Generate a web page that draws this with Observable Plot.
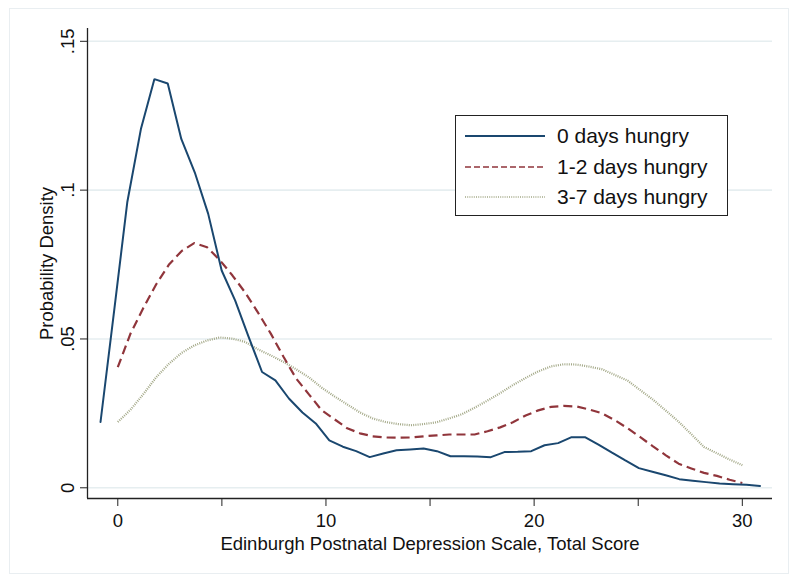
<!DOCTYPE html>
<html>
<head>
<meta charset="utf-8">
<script src="https://cdn.jsdelivr.net/npm/d3@7"></script>
<script src="https://cdn.jsdelivr.net/npm/@observablehq/plot@0.6"></script>
<style>
  html, body { margin: 0; padding: 0; background: #fff; }
  #wrap { position: relative; width: 800px; height: 585px; font-family: "Liberation Sans", Arial, Helvetica, sans-serif; }
  #border { position: absolute; left: 9px; top: 8px; width: 780px; height: 566px; border: 1.5px solid #e9eef1; box-sizing: border-box; }
  #chart { position: absolute; left: 0; top: 0; }
  #legend { position: absolute; left: 455px; top: 115px; width: 273px; height: 101px; border: 1.5px solid #222; background: #fff; box-sizing: border-box; }
  .row { position: absolute; left: 0; height: 30px; display: flex; align-items: center; }
  .row svg { margin-left: 9px; }
  .row span { margin-left: 12px; font-size: 21px; color: #111; white-space: nowrap; }
</style>
</head>
<body>
<div id="wrap">
  <div id="border"></div>
  <div id="chart"></div>
  <div id="legend"></div>
</div>
<script>
// Series names
const seriesNames = ["0 days hungry", "1-2 days hungry", "3-7 days hungry"];
const seriesColors = ["#1a476f", "#90353b", "#a3a887"];

// Evaluation grid for "0 days hungry"
const xBlue = [-0.83, -0.18, 0.46, 1.11, 1.76, 2.40, 3.05, 3.70, 4.34, 4.99,
  5.64, 6.28, 6.93, 7.57, 8.22, 8.87, 9.51, 10.16, 10.81, 11.45,
  12.10, 12.75, 13.39, 14.04, 14.69, 15.33, 15.98, 16.63, 17.27, 17.92,
  18.57, 19.21, 19.86, 20.50, 21.15, 21.80, 22.44, 23.09, 23.74, 24.38,
  25.03, 25.68, 26.32, 26.97, 27.62, 28.26, 28.91, 29.56, 30.20, 30.85];
const yBlue = [0.0221, 0.0592, 0.0961, 0.1205, 0.1373, 0.1358, 0.1172, 0.1059, 0.0921, 0.0730,
  0.0629, 0.0508, 0.0389, 0.0361, 0.0300, 0.0253, 0.0216, 0.0159, 0.0138, 0.0123,
  0.0103, 0.0115, 0.0126, 0.0129, 0.0132, 0.0123, 0.0106, 0.0106, 0.0105, 0.0103,
  0.0120, 0.0121, 0.0123, 0.0143, 0.0150, 0.0170, 0.0170, 0.0145, 0.0118, 0.0092,
  0.0066, 0.0054, 0.0042, 0.0029, 0.0024, 0.0019, 0.0014, 0.0012, 0.0010, 0.0006];

// Evaluation grid for "1-2 days hungry" and "3-7 days hungry"
const xOther = [0.00, 0.61, 1.22, 1.84, 2.45, 3.06, 3.67, 4.29, 4.90, 5.51,
  6.12, 6.73, 7.35, 7.96, 8.57, 9.18, 9.80, 10.41, 11.02, 11.63,
  12.24, 12.86, 13.47, 14.08, 14.69, 15.31, 15.92, 16.53, 17.14, 17.76,
  18.37, 18.98, 19.59, 20.20, 20.82, 21.43, 22.04, 22.65, 23.27, 23.88,
  24.49, 25.10, 25.71, 26.33, 26.94, 27.55, 28.16, 28.78, 29.39, 30.00];
const yRed = [0.0405, 0.0518, 0.0603, 0.0683, 0.0749, 0.0795, 0.0822, 0.0808, 0.0765, 0.0713,
  0.0656, 0.0589, 0.0518, 0.0440, 0.0367, 0.0314, 0.0260, 0.0230, 0.0200, 0.0183,
  0.0173, 0.0169, 0.0168, 0.0169, 0.0173, 0.0176, 0.0179, 0.0179, 0.0179, 0.0190,
  0.0203, 0.0220, 0.0243, 0.0260, 0.0272, 0.0275, 0.0273, 0.0263, 0.0250, 0.0227,
  0.0200, 0.0170, 0.0139, 0.0109, 0.0081, 0.0065, 0.0050, 0.0040, 0.0027, 0.0016];
const yGreen = [0.0221, 0.0262, 0.0314, 0.0371, 0.0416, 0.0453, 0.0478, 0.0495, 0.0505, 0.0501,
  0.0490, 0.0465, 0.0445, 0.0423, 0.0398, 0.0371, 0.0336, 0.0307, 0.0280, 0.0253,
  0.0233, 0.0221, 0.0214, 0.0210, 0.0214, 0.0220, 0.0233, 0.0247, 0.0269, 0.0293,
  0.0318, 0.0345, 0.0369, 0.0391, 0.0408, 0.0415, 0.0414, 0.0407, 0.0398, 0.0379,
  0.0360, 0.0328, 0.0296, 0.0259, 0.0222, 0.0180, 0.0137, 0.0116, 0.0095, 0.0076];

// Ticks and labels
const xTicks = [0, 5, 10, 15, 20, 25, 30];
const xTickLabels = ["0", "", "10", "", "20", "", "30"];
const yTicks = [0, 0.05, 0.1, 0.15];
const yTickLabels = ["0", ".05", ".1", ".15"];
const xTitle = "Edinburgh Postnatal Depression Scale, Total Score";
const yTitle = "Probability Density";

const xDomain = [-1.455, 31.45];
const yDomain = [-0.0036, 0.1543];

const blue = xBlue.map((x, i) => ({x, y: yBlue[i]}));
const red = xOther.map((x, i) => ({x, y: yRed[i]}));
const green = xOther.map((x, i) => ({x, y: yGreen[i]}));

const font = "'Liberation Sans', Arial, Helvetica, sans-serif";

const chart = Plot.plot({
  width: 800,
  height: 585,
  marginLeft: 87,
  marginRight: 28,
  marginTop: 28,
  marginBottom: 87,
  x: {domain: xDomain},
  y: {domain: yDomain},
  style: {fontFamily: font, fontSize: "18.5px", color: "#111", background: "transparent", overflow: "visible"},
  marks: [
    Plot.ruleY(yTicks, {stroke: "#e6eef0", strokeWidth: 1.6}),
    Plot.ruleX([xDomain[0]], {stroke: "#222", strokeWidth: 1.3}),
    Plot.ruleY([yDomain[0]], {stroke: "#222", strokeWidth: 1.3}),
    Plot.axisX({ticks: xTicks, tickSize: 8, tickPadding: 7, tickFormat: (d) => xTickLabels[xTicks.indexOf(d)], label: null, stroke: "#222", fontSize: 18.5, fill: "#111"}),
    Plot.axisY({ticks: yTicks, tickSize: 7, tickFormat: () => "", label: null, stroke: "#222"}),
    Plot.text(yTicks, {y: d => d, text: (d, i) => yTickLabels[i], frameAnchor: "left", rotate: -90, dx: -14, lineAnchor: "bottom", textAnchor: "middle", fontSize: 18.5, fill: "#111"}),
    Plot.text([yTitle], {text: d => d, frameAnchor: "left", rotate: -90, dx: -35, lineAnchor: "bottom", textAnchor: "middle", fontSize: 18.5, fill: "#111"}),
    Plot.text([xTitle], {text: d => d, frameAnchor: "bottom", dy: 51, lineAnchor: "bottom", textAnchor: "middle", fontSize: 18.5, fill: "#111"}),
    Plot.line(green, {x: "x", y: "y", stroke: seriesColors[2], strokeWidth: 2.2, strokeDasharray: "1,1.2", strokeLinecap: "butt"}),
    Plot.line(red, {x: "x", y: "y", stroke: seriesColors[1], strokeWidth: 2.2, strokeDasharray: "9,5", strokeLinecap: "butt"}),
    Plot.line(blue, {x: "x", y: "y", stroke: seriesColors[0], strokeWidth: 2, strokeLinejoin: "miter"})
  ]
});
document.getElementById("chart").appendChild(chart);

// Legend
const legend = document.getElementById("legend");
const dashes = [null, "6,3", "1,1.2"];
seriesNames.forEach((name, i) => {
  const row = document.createElement("div");
  row.className = "row";
  row.style.top = (5 + i * 30.5) + "px";
  const ns = "http://www.w3.org/2000/svg";
  const svg = document.createElementNS(ns, "svg");
  svg.setAttribute("width", 80);
  svg.setAttribute("height", 10);
  const ln = document.createElementNS(ns, "line");
  ln.setAttribute("x1", 0); ln.setAttribute("x2", 80);
  ln.setAttribute("y1", 5); ln.setAttribute("y2", 5);
  ln.setAttribute("stroke", seriesColors[i]);
  ln.setAttribute("stroke-width", i === 0 ? 2 : 1.6);
  if (dashes[i]) ln.setAttribute("stroke-dasharray", dashes[i]);
  svg.appendChild(ln);
  const sp = document.createElement("span");
  sp.textContent = name;
  row.appendChild(svg);
  row.appendChild(sp);
  legend.appendChild(row);
});
</script>
</body>
</html>
